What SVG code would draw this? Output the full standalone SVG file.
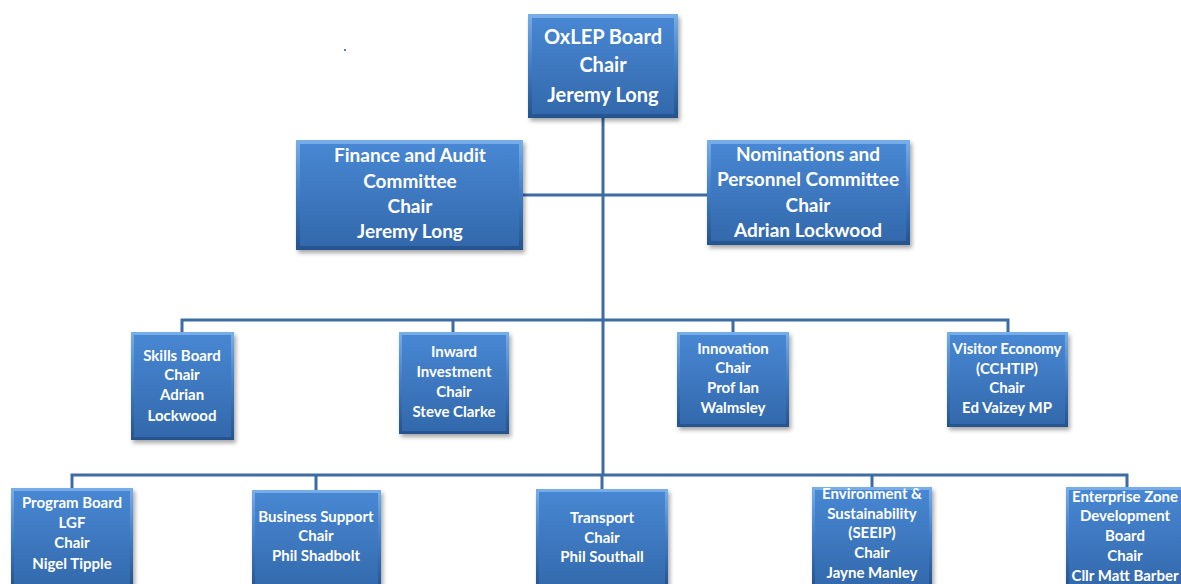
<svg xmlns="http://www.w3.org/2000/svg" width="1181" height="584" viewBox="0 0 1181 584">
<defs>
<linearGradient id="bev" x1="0" y1="0" x2="0" y2="1">
<stop offset="0" stop-color="#78aee8"/>
<stop offset="0.5" stop-color="#3f7cc6"/>
<stop offset="1" stop-color="#24538e"/>
</linearGradient>
<linearGradient id="face" x1="0" y1="0" x2="0" y2="1">
<stop offset="0" stop-color="#4887d3"/>
<stop offset="1" stop-color="#3369ac"/>
</linearGradient>
<filter id="sh" x="-10%" y="-10%" width="130%" height="130%">
<feDropShadow dx="2" dy="3" stdDeviation="2" flood-color="#000" flood-opacity="0.35"/>
</filter>
</defs>
<style>
.outer{fill:url(#bev);filter:url(#sh)}
.inner{fill:url(#face)}
.t{font-family:Lato,"Liberation Sans",sans-serif;font-weight:bold;fill:#fff;text-anchor:middle}
.big{font-size:19px}
.top{font-size:20px}
.sm{font-size:15px}
.conn{fill:none;stroke:#3d6ca3;stroke-width:3}
</style>
<rect width="1181" height="584" fill="#fff"/>
<circle cx="345" cy="50" r="1" fill="#3344cc"/>
<g id="connectors">
<path class="conn" d="M603 118V475"/>
<path class="conn" d="M523 195H707"/>
<path class="conn" d="M182 332V320H1008V332"/>
<path class="conn" d="M453 320V332M733 320V332"/>
<path class="conn" d="M72 488V475H1127V487"/>
<path class="conn" d="M316 475V490M602 475V489M872 475V487"/>
</g>
<g id="oxlep">
<rect class="outer" x="528" y="14" width="150" height="104"/>
<rect class="inner" x="532" y="18" width="142" height="96"/>
<text class="t top" x="603" y="44">OxLEP Board</text>
<text class="t top" x="603" y="72">Chair</text>
<text class="t top" x="603" y="102">Jeremy Long</text>
</g>
<g id="finance">
<rect class="outer" x="296" y="140" width="227" height="110"/>
<rect class="inner" x="300" y="144" width="219" height="102"/>
<text class="t big" x="410" y="162">Finance and Audit</text>
<text class="t big" x="410" y="188">Committee</text>
<text class="t big" x="410" y="213">Chair</text>
<text class="t big" x="410" y="238">Jeremy Long</text>
</g>
<g id="nominations">
<rect class="outer" x="707" y="140" width="203" height="105"/>
<rect class="inner" x="711" y="144" width="195" height="97"/>
<text class="t big" x="808" y="161">Nominations and</text>
<text class="t big" x="808" y="186">Personnel Committee</text>
<text class="t big" x="808" y="212">Chair</text>
<text class="t big" x="808" y="237">Adrian Lockwood</text>
</g>
<g id="skills">
<rect class="outer" x="131" y="332" width="103" height="108"/>
<rect class="inner" x="134" y="335" width="97" height="102"/>
<text class="t sm" x="182" y="361">Skills Board</text>
<text class="t sm" x="182" y="380">Chair</text>
<text class="t sm" x="182" y="400">Adrian</text>
<text class="t sm" x="182" y="421">Lockwood</text>
</g>
<g id="inward">
<rect class="outer" x="399" y="332" width="110" height="102"/>
<rect class="inner" x="402" y="335" width="104" height="96"/>
<text class="t sm" x="454" y="357">Inward</text>
<text class="t sm" x="454" y="377">Investment</text>
<text class="t sm" x="454" y="397">Chair</text>
<text class="t sm" x="454" y="417">Steve Clarke</text>
</g>
<g id="innovation">
<rect class="outer" x="677" y="332" width="112" height="95"/>
<rect class="inner" x="680" y="335" width="106" height="89"/>
<text class="t sm" x="733" y="354">Innovation</text>
<text class="t sm" x="733" y="373">Chair</text>
<text class="t sm" x="733" y="393">Prof Ian</text>
<text class="t sm" x="733" y="413">Walmsley</text>
</g>
<g id="visitor">
<rect class="outer" x="947" y="332" width="121" height="95"/>
<rect class="inner" x="950" y="335" width="115" height="89"/>
<text class="t sm" x="1007" y="354">Visitor Economy</text>
<text class="t sm" x="1007" y="374">(CCHTIP)</text>
<text class="t sm" x="1007" y="393">Chair</text>
<text class="t sm" x="1007" y="413">Ed Vaizey MP</text>
</g>
<g id="program">
<rect class="outer" x="11" y="488" width="122" height="100"/>
<rect class="inner" x="14" y="491" width="116" height="97"/>
<text class="t sm" x="72" y="508">Program Board</text>
<text class="t sm" x="72" y="528">LGF</text>
<text class="t sm" x="72" y="548">Chair</text>
<text class="t sm" x="72" y="569">Nigel Tipple</text>
</g>
<g id="business">
<rect class="outer" x="252" y="490" width="129" height="100"/>
<rect class="inner" x="255" y="493" width="123" height="97"/>
<text class="t sm" x="316" y="522">Business Support</text>
<text class="t sm" x="316" y="541">Chair</text>
<text class="t sm" x="316" y="561">Phil Shadbolt</text>
</g>
<g id="transport">
<rect class="outer" x="536" y="489" width="132" height="100"/>
<rect class="inner" x="539" y="492" width="126" height="97"/>
<text class="t sm" x="602" y="523">Transport</text>
<text class="t sm" x="602" y="543">Chair</text>
<text class="t sm" x="602" y="562">Phil Southall</text>
</g>
<g id="environment">
<rect class="outer" x="812" y="487" width="120" height="100"/>
<rect class="inner" x="815" y="490" width="114" height="97"/>
<text class="t sm" x="872" y="499">Environment &amp;</text>
<text class="t sm" x="872" y="519">Sustainability</text>
<text class="t sm" x="872" y="538">(SEEIP)</text>
<text class="t sm" x="872" y="558">Chair</text>
<text class="t sm" x="872" y="578">Jayne Manley</text>
</g>
<g id="enterprise">
<rect class="outer" x="1066" y="487" width="120" height="100"/>
<rect class="inner" x="1069" y="490" width="114" height="97"/>
<text class="t sm" x="1125" y="502">Enterprise Zone</text>
<text class="t sm" x="1125" y="521">Development</text>
<text class="t sm" x="1125" y="541">Board</text>
<text class="t sm" x="1125" y="561">Chair</text>
<text class="t sm" x="1125" y="581">Cllr Matt Barber</text>
</g>
</svg>
